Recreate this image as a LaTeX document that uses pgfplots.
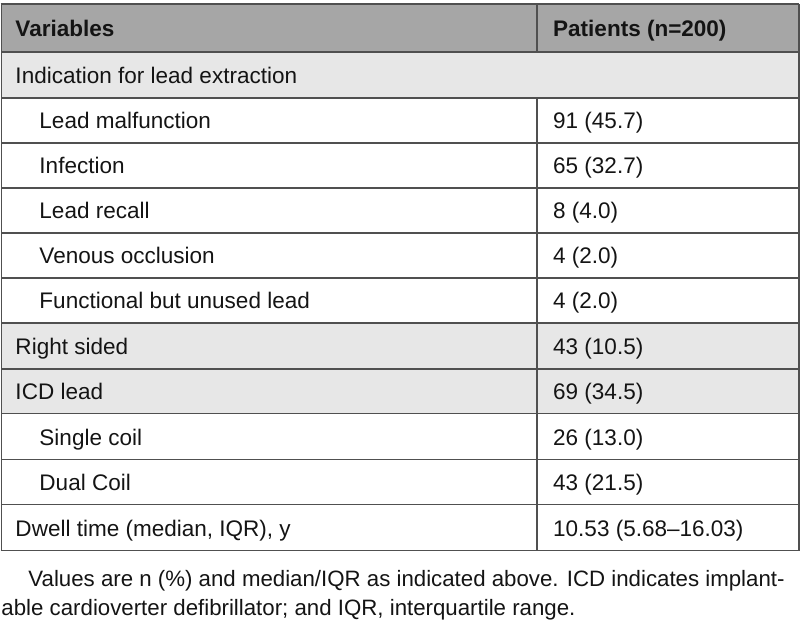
\documentclass[border=0pt]{standalone}
\usepackage{fontspec}
\setmainfont{Liberation Sans}
\usepackage{pgfplots}
\pgfplotsset{compat=1.18}
\definecolor{hdr}{HTML}{A6A6A6}
\definecolor{lite}{HTML}{E7E7E7}
\definecolor{rule}{HTML}{505050}
\definecolor{txt}{HTML}{141414}
\newcommand{\semi}{;}
\begin{document}
\begin{tikzpicture}
\begin{axis}[
  width=600pt, height=472.5pt, scale only axis,
  xmin=0, xmax=800, ymin=0, ymax=630, y dir=reverse,
  hide axis, clip=false,
  txtstyle/.style={only marks, mark=none, nodes near coords,
    point meta=explicit symbolic,
    nodes near coords style={anchor=base west, inner sep=0pt, text=txt,
      font=\fontsize{16.9}{20}\selectfont}},
]
% bounding box
\addplot[draw=none] coordinates {(0,0) (800,630)};
% backgrounds
\addplot[fill=hdr, draw=none] coordinates {(1,4) (799,4) (799,52) (1,52) (1,4)};
\addplot[fill=lite, draw=none] coordinates {(1,52) (799,52) (799,98) (1,98) (1,52)};
\addplot[fill=lite, draw=none] coordinates {(1,323) (799,323) (799,414) (1,414) (1,323)};
% horizontal rules
\addplot[draw=rule, line width=1.1pt, unbounded coords=jump] table {
x y
0.5 4
799.5 4
nan nan
1 52
799 52
nan nan
1 98
799 98
nan nan
1 143
799 143
nan nan
1 188
799 188
nan nan
1 233
799 233
nan nan
1 278
799 278
nan nan
1 323
799 323
nan nan
1 369
799 369
nan nan
1 414
799 414
nan nan
1 460
799 460
nan nan
1 505
799 505
nan nan
0.5 551
799.5 551
};
% vertical rules
\addplot[draw=rule, line width=1.1pt, unbounded coords=jump] table {
x y
1 4
1 551
nan nan
799 4
799 551
nan nan
537 4
537 52
nan nan
537 98
537 551
};
% header
\addplot[txtstyle, nodes near coords style={font=\fontsize{16.9}{20}\selectfont\bfseries}] coordinates {
(15,37) [{Variables}]
(553,37) [{Patients (n=200)}]
};
% body
\addplot[txtstyle] coordinates {
(15,83.5) [{Indication for lead extraction}]
(39,129) [{Lead malfunction}]
(553,129) [{91 (45.7)}]
(39,174) [{Infection}]
(553,174) [{65 (32.7)}]
(39,219) [{Lead recall}]
(553,219) [{8 (4.0)}]
(39,264) [{Venous occlusion}]
(553,264) [{4 (2.0)}]
(39,309) [{Functional but unused lead}]
(553,309) [{4 (2.0)}]
(15,354.5) [{Right sided}]
(553,354.5) [{43 (10.5)}]
(15,400) [{ICD lead}]
(553,400) [{69 (34.5)}]
(39,445.5) [{Single coil}]
(553,445.5) [{26 (13.0)}]
(39,491) [{Dual Coil}]
(553,491) [{43 (21.5)}]
(15,536.5) [{Dwell time (median, IQR), y}]
(553,536.5) [{10.53 (5.68–16.03)}]
};
% footnote
\addplot[txtstyle, nodes near coords style={font=\fontsize{16.7}{20}\selectfont}] coordinates {
(28,587) [{Values are n (\%) and median/IQR as indicated above. ICD indicates implant-}]
(1,616) [{able cardioverter defibrillator\semi{} and IQR, interquartile range.}]
};
\end{axis}
\end{tikzpicture}
\end{document}
